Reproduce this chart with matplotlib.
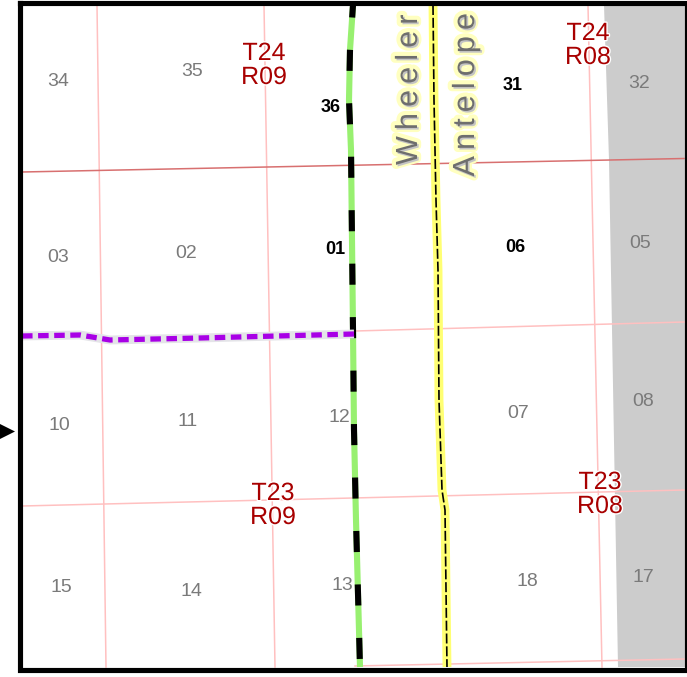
import matplotlib
matplotlib.use('Agg')
import matplotlib.pyplot as plt
import matplotlib.patheffects as pe

# section numbers (label, x, y)
sec_labels = ['34', '35', '03', '02', '10', '11', '12', '15', '14', '13',
              '32', '05', '07', '08', '18', '17']
sec_x = [58, 192, 58, 186, 59, 188, 339, 61, 191, 342, 639, 640, 518, 643, 527, 643]
sec_y = [81, 72, 258, 254, 425, 421, 418, 587, 591, 585, 83, 244, 414, 402, 582, 578]

bold_labels = ['36', '01', '31', '06']
bold_x = [331, 335, 513, 515]
bold_y = [108, 250, 85, 247]

town_labels = ['T24\nR09', 'T24\nR08', 'T23\nR09', 'T23\nR08']
town_x = [264, 588, 273, 600]
town_y = [65, 45, 505, 494]

county_names = ['Wheeler', 'Antelope']
name_x = [409, 466]
name_y = [90, 95]

# section lines
grid_v = [([97, 106], [5, 667]), ([264, 275], [5, 667]), ([588, 602], [5, 667])]
grid_h = [([355, 684], [331, 322]), ([22, 684], [506, 490]), ([355, 684], [666, 659])]
red_x = [22, 684]
red_y = [172, 158.5]

# boundaries
county_x = [353, 350, 349, 351, 352, 353, 354, 356, 360]
county_y = [5, 50, 100, 150, 240, 330, 430, 520, 667]
yellow_x = [433, 434, 436, 438, 439, 442, 445, 447]
yellow_y = [5, 100, 200, 270, 400, 490, 510, 667]
purple_x = [22, 80, 110, 200, 354]
purple_y = [336, 335, 340, 338, 334]

gray_x = [604, 687, 687, 618, 609]
gray_y = [5, 5, 667, 667, 160]

fig = plt.figure(figsize=(6.87, 6.77), dpi=100)
ax = fig.add_axes([0, 0, 1, 1])
ax.set_xlim(0, 687)
ax.set_ylim(677, 0)
ax.axis('off')
plt.rcParams['font.family'] = ['Liberation Sans', 'DejaVu Sans']

ax.fill(gray_x, gray_y, color='#cccccc', lw=0, zorder=1)

for xs, ys in grid_v + grid_h:
    ax.plot(xs, ys, color='#ffc0c0', lw=1.1, zorder=2)
ax.plot(red_x, red_y, color='#d87070', lw=1.1, zorder=2)

# county line, black and green dashes
ax.plot(county_x, county_y, color='#98f070', lw=4.4, zorder=5, solid_capstyle='butt')
ax.plot(county_x, county_y, color='black', lw=4.4, ls=(1.4, (3.45, 5.3)), zorder=6, dash_capstyle='butt')

# yellow line with thin black dash on top
ax.plot(yellow_x, yellow_y, color='#ffff73', lw=6.4, zorder=5, solid_capstyle='butt')
ax.plot(yellow_x, yellow_y, color='black', lw=1.2, ls=(0, (6.0, 1.7)), zorder=6)

# purple line with a pale casing, sits over the county line
ax.plot(purple_x, purple_y, color='#e4e4e8', lw=6.4, zorder=7, solid_capstyle='butt')
ax.plot(purple_x, purple_y, color='#a800e6', lw=3.8, ls=(0, (2.0, 1.05)), zorder=7, dash_capstyle='butt')

for t, x, y in zip(sec_labels, sec_x, sec_y):
    ax.text(x, y, t, color='#7a7a7a', fontsize=14, ha='center', va='center', zorder=8)
for t, x, y in zip(bold_labels, bold_x, bold_y):
    ax.text(x, y, t, color='black', fontsize=13, fontweight='bold', ha='center', va='center', zorder=8)
white_halo = [pe.withStroke(linewidth=2, foreground='white')]
for t, x, y in zip(town_labels, town_x, town_y):
    ax.text(x, y, t, color='#a80000', fontsize=18, ha='center', va='center', linespacing=1.0,
            zorder=8, path_effects=white_halo)

# county names, rotated and letter spaced
shadow = [pe.Stroke(linewidth=6, foreground='#ffffc0'),
          pe.SimplePatchShadow(offset=(1.2, -1.2), shadow_rgbFace='#c4c4c4', alpha=1),
          pe.Normal()]
for name, x, y in zip(county_names, name_x, name_y):
    ax.text(x, y, '\u2009'.join(name), color='#6e6e6e', fontsize=22, rotation=90, ha='center', va='center',
            zorder=9, path_effects=shadow)

# map frame, right side runs off the picture
ax.plot([19.5, 19.5, 686.5, 686.5, 19.5], [2.5, 670, 670, 2.5, 2.5], color='black', lw=3.7,
        zorder=10, solid_joinstyle='miter', solid_capstyle='projecting')

# arrow on the left edge
ax.fill([0, 15, 0], [424, 431.5, 439], color='black', lw=0, zorder=10)

fig.savefig('out.png', dpi=100)
